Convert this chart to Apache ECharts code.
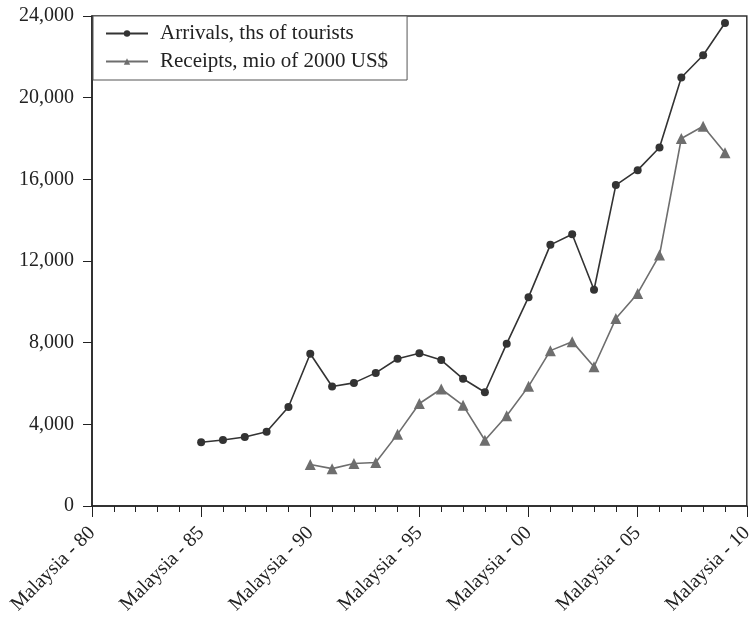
<!DOCTYPE html>
<html>
<head>
<meta charset="utf-8">
<script src="https://cdn.jsdelivr.net/npm/echarts@6/dist/echarts.min.js"></script>
<style>
html,body{margin:0;padding:0;background:#fff;}
#chart{width:756px;height:623px;}
</style>
</head>
<body>
<div id="chart"></div>
<script>
var categories = ['Malaysia - 80','Malaysia - 81','Malaysia - 82','Malaysia - 83','Malaysia - 84',
  'Malaysia - 85','Malaysia - 86','Malaysia - 87','Malaysia - 88','Malaysia - 89',
  'Malaysia - 90','Malaysia - 91','Malaysia - 92','Malaysia - 93','Malaysia - 94',
  'Malaysia - 95','Malaysia - 96','Malaysia - 97','Malaysia - 98','Malaysia - 99',
  'Malaysia - 00','Malaysia - 01','Malaysia - 02','Malaysia - 03','Malaysia - 04',
  'Malaysia - 05','Malaysia - 06','Malaysia - 07','Malaysia - 08','Malaysia - 09',
  'Malaysia - 10'];
var arrivals = [null,null,null,null,null,
  3120,3230,3380,3640,4850,
  7460,5850,6030,6520,7210,
  7480,7150,6230,5570,7950,
  10230,12790,13310,10590,15720,
  16450,17560,20990,22080,23660,
  null];
var receipts = [null,null,null,null,null,
  null,null,null,null,null,
  2030,1830,2080,2130,3520,
  5020,5730,4930,3220,4420,
  5860,7610,8050,6820,9180,
  10410,12290,18000,18600,17300,
  null];
var seriesNames = ['Arrivals, ths of tourists','Receipts, mio of 2000 US$'];
var yTicks = {min:0, max:24000, interval:4000};

var font = '"Liberation Serif","Times New Roman",serif';
var chart = echarts.init(document.getElementById('chart'));
chart.setOption({
  animation:false,
  backgroundColor:'#fff',
  grid:{left:92,right:8,top:16,bottom:117,show:true,borderColor:'#333',borderWidth:1.5,backgroundColor:'transparent'},
  legend:{
    orient:'vertical',left:93,top:16,
    data:seriesNames,
    itemWidth:42,itemHeight:8,itemGap:7,
    padding:[7,19,8,12],
    borderColor:'#555',borderWidth:1,
    backgroundColor:'#fff',
    textStyle:{fontFamily:font,fontSize:21,lineHeight:20,color:'#222',padding:[0,0,0,7]}
  },
  xAxis:[{
    type:'category',data:categories,boundaryGap:false,
    axisLine:{lineStyle:{color:'#222',width:1.5}},
    axisTick:{interval:0,length:6,lineStyle:{color:'#222',width:1}},
    axisLabel:{show:false},
    splitLine:{show:false}
  },{
    type:'category',data:categories,boundaryGap:false,position:'bottom',
    axisLine:{show:false},
    axisTick:{interval:4,length:11,lineStyle:{color:'#222',width:1}},
    axisLabel:{interval:4,rotate:45,margin:24,fontFamily:font,fontSize:20,color:'#222'},
    splitLine:{show:false}
  }],
  yAxis:{
    type:'value',min:yTicks.min,max:yTicks.max,interval:yTicks.interval,
    axisLine:{show:true,lineStyle:{color:'#222',width:1.5}},
    axisTick:{show:true,length:9,lineStyle:{color:'#222'}},
    axisLabel:{margin:18,fontFamily:font,fontSize:20,color:'#222',
      formatter:function(v){return v.toLocaleString('en-US');}},
    splitLine:{show:false}
  },
  series:[{
    name:seriesNames[0],type:'line',data:arrivals,xAxisIndex:0,
    symbol:'circle',symbolSize:8,
    lineStyle:{color:'#333',width:1.6},
    itemStyle:{color:'#333'}
  },{
    name:seriesNames[1],type:'line',data:receipts,xAxisIndex:0,
    symbol:'triangle',symbolSize:11,
    lineStyle:{color:'#6e6e6e',width:1.6},
    itemStyle:{color:'#6e6e6e'}
  }]
});
</script>
</body>
</html>
